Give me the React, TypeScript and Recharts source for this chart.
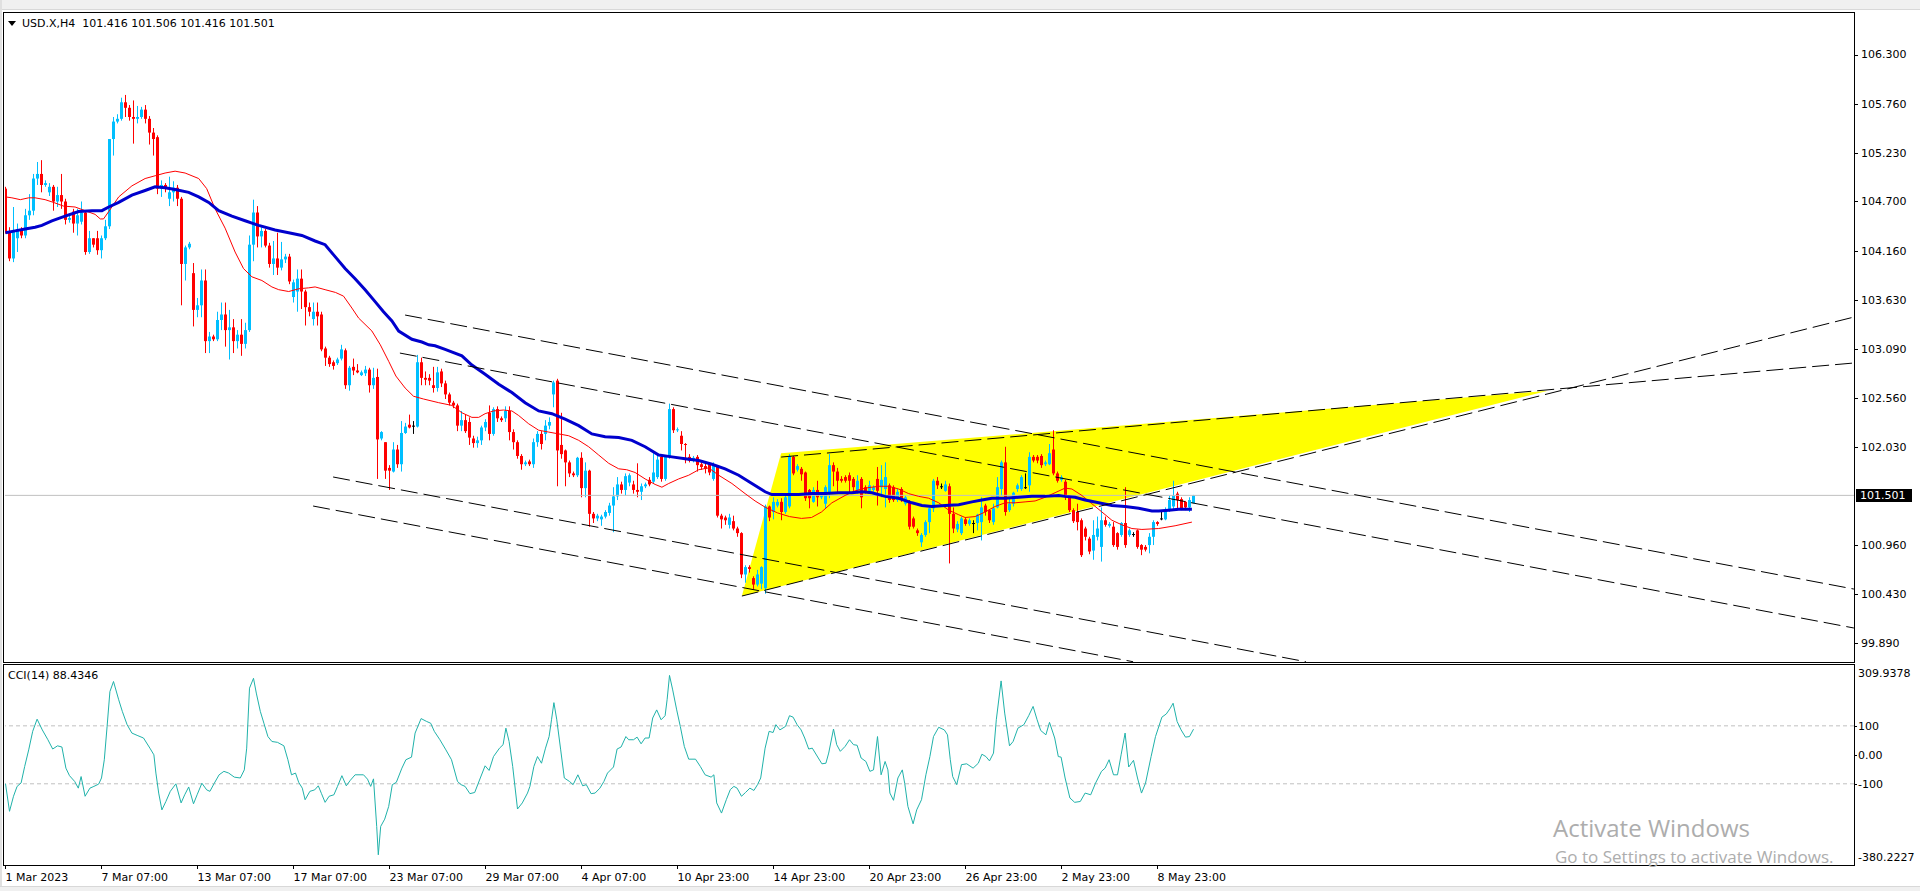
import { Area, Bar, ComposedChart, Line, ReferenceLine, XAxis, YAxis } from "recharts";

// H4 candles, one per bar
const barOpen = [
  104.84, 104.37, 104.08, 104.30, 104.40, 104.33, 104.55, 104.60, 104.95, 105.00,
  104.88, 104.80, 104.86, 104.70, 104.77, 104.70, 104.50, 104.59, 104.46, 104.48,
  104.58, 104.15, 104.30, 104.30, 104.17, 104.30, 104.43, 105.38, 105.57, 105.60,
  105.78, 105.72, 105.62, 105.60, 105.62, 105.70, 105.60, 105.45, 105.40, 104.84,
  104.88, 104.73, 104.80, 104.85, 104.73, 104.02, 104.20, 103.92, 103.52, 103.57,
  103.84, 103.18, 103.23, 103.20, 103.41, 103.47, 103.30, 103.33, 103.18, 103.25,
  103.15, 103.30, 104.23, 104.58, 104.32, 104.38, 104.22, 104.02, 104.08, 103.98,
  104.07, 104.10, 103.66, 103.72, 103.86, 103.72, 103.55, 103.42, 103.50, 103.47,
  103.10, 103.00, 102.95, 102.94, 102.99, 103.08, 102.70, 102.90, 102.86, 102.81,
  102.83, 102.87, 102.70, 102.79, 102.12, 102.08, 101.80, 101.76, 102.00, 101.84,
  102.18, 102.27, 102.26, 102.25, 102.95, 102.78, 102.78, 102.70, 102.67, 102.85,
  102.72, 102.60, 102.51, 102.48, 102.26, 102.32, 102.30, 102.12, 102.07, 102.10,
  102.24, 102.40, 102.17, 102.44, 102.34, 102.34, 102.42, 102.19, 102.08, 101.93,
  101.84, 101.87, 101.84, 102.08, 102.17, 102.17, 102.26, 102.60, 102.75, 102.05,
  101.99, 101.86, 101.74, 101.72, 101.91, 101.58, 101.77, 101.30, 101.25, 101.24,
  101.27, 101.31, 101.39, 101.49, 101.62, 101.56, 101.64, 101.62, 101.56, 101.54,
  101.60, 101.67, 101.65, 101.70, 101.92, 101.68, 101.92, 102.44, 102.21, 102.15,
  102.06, 101.92, 101.88, 101.92, 101.84, 101.82, 101.84, 101.68, 101.81, 101.28,
  101.26, 101.18, 101.22, 101.14, 101.09, 100.64, 100.72, 100.60, 100.53, 100.54,
  100.49, 101.38, 101.32, 101.39, 101.43, 101.32, 101.38, 101.92, 101.78, 101.79,
  101.75, 101.56, 101.43, 101.56, 101.48, 101.41, 101.52, 101.83, 101.76, 101.68,
  101.70, 101.72, 101.68, 101.56, 101.68, 101.59, 101.55, 101.56, 101.68, 101.59,
  101.57, 101.61, 101.59, 101.45, 101.57, 101.41, 101.43, 101.25, 101.12, 100.99,
  101.07, 101.21, 101.36, 101.66, 101.60, 101.55, 101.60, 101.30, 101.13, 101.09,
  101.24, 101.19, 101.20, 101.20, 101.21, 101.39, 101.34, 101.21, 101.37, 101.57,
  101.86, 101.34, 101.41, 101.57, 101.57, 101.59, 101.61, 101.92, 101.92, 101.93,
  101.84, 101.84, 102.00, 101.74, 101.67, 101.65, 101.48, 101.34, 101.32, 101.23,
  101.14, 101.03, 100.90, 101.05, 100.94, 101.23, 101.17, 101.16, 101.09, 101.07,
  101.20, 101.07, 101.08, 101.12, 100.96, 100.94, 100.96, 101.05, 101.21, 101.25,
  101.24, 101.34, 101.38, 101.52, 101.46, 101.43, 101.37, 101.416,
];
const barHigh = [
  104.86, 104.42, 104.64, 104.46, 104.42, 104.62, 104.78, 105.00, 105.13, 105.15,
  104.93, 104.90, 104.88, 104.86, 105.00, 104.73, 104.56, 104.62, 104.62, 104.70,
  104.60, 104.38, 104.30, 104.38, 104.33, 104.50, 105.38, 105.62, 105.65, 105.83,
  105.86, 105.75, 105.80, 105.74, 105.73, 105.75, 105.63, 105.50, 105.42, 104.93,
  104.90, 104.97, 104.92, 104.88, 104.75, 104.22, 104.26, 104.03, 103.65, 103.96,
  103.96, 103.28, 103.25, 103.50, 103.60, 103.60, 103.52, 103.42, 103.30, 103.42,
  103.38, 104.33, 104.72, 104.65, 104.42, 104.40, 104.25, 104.27, 104.36, 104.26,
  104.13, 104.13, 103.85, 103.96, 103.96, 103.74, 103.60, 103.60, 103.60, 103.50,
  103.12, 103.02, 102.97, 103.00, 103.14, 103.10, 102.91, 102.99, 102.93, 102.86,
  102.91, 102.89, 102.89, 102.88, 102.20, 102.08, 101.83, 102.08, 102.05, 102.31,
  102.29, 102.38, 102.31, 103.03, 103.00, 102.85, 102.82, 102.90, 102.90, 102.88,
  102.75, 102.62, 102.53, 102.50, 102.42, 102.38, 102.35, 102.15, 102.14, 102.26,
  102.33, 102.48, 102.46, 102.47, 102.36, 102.47, 102.47, 102.22, 102.10, 101.95,
  101.88, 101.89, 102.12, 102.20, 102.20, 102.32, 102.35, 102.75, 102.77, 102.40,
  102.00, 101.88, 101.76, 101.92, 101.97, 101.86, 101.78, 101.32, 101.30, 101.29,
  101.34, 101.42, 101.59, 101.70, 101.65, 101.74, 101.74, 101.66, 101.85, 101.63,
  101.64, 101.70, 101.96, 101.96, 101.95, 101.94, 102.50, 102.46, 102.24, 102.20,
  102.07, 101.95, 101.93, 101.94, 101.86, 101.86, 101.86, 101.86, 101.83, 101.30,
  101.28, 101.30, 101.28, 101.16, 101.10, 100.74, 100.74, 100.62, 100.69, 100.73,
  101.40, 101.39, 101.48, 101.46, 101.47, 101.52, 101.95, 101.93, 101.84, 101.81,
  101.76, 101.57, 101.59, 101.66, 101.52, 101.61, 101.95, 101.86, 101.80, 101.71,
  101.72, 101.75, 101.70, 101.72, 101.70, 101.61, 101.66, 101.61, 101.81, 101.83,
  101.86, 101.63, 101.61, 101.57, 101.59, 101.50, 101.45, 101.27, 101.14, 101.09,
  101.23, 101.37, 101.68, 101.70, 101.63, 101.66, 101.63, 101.37, 101.22, 101.27,
  101.26, 101.25, 101.23, 101.30, 101.48, 101.41, 101.35, 101.41, 101.70, 101.88,
  102.03, 101.48, 101.54, 101.63, 101.72, 101.74, 101.97, 101.94, 101.94, 101.95,
  101.88, 102.06, 102.21, 101.76, 101.72, 101.67, 101.50, 101.36, 101.41, 101.25,
  101.16, 101.05, 101.23, 101.27, 101.37, 101.27, 101.21, 101.21, 101.10, 101.21,
  101.59, 101.14, 101.10, 101.13, 100.97, 100.96, 101.09, 101.23, 101.22, 101.32,
  101.37, 101.50, 101.66, 101.54, 101.48, 101.44, 101.48, 101.506,
];
const barLow = [
  104.35, 104.05, 104.04, 104.15, 104.30, 104.30, 104.50, 104.55, 104.88, 104.80,
  104.86, 104.76, 104.60, 104.64, 104.62, 104.45, 104.47, 104.36, 104.33, 104.45,
  104.12, 104.13, 104.20, 104.12, 104.08, 104.28, 104.40, 105.20, 105.55, 105.58,
  105.62, 105.58, 105.33, 105.55, 105.60, 105.55, 105.32, 105.20, 104.78, 104.75,
  104.80, 104.65, 104.70, 104.65, 103.57, 103.84, 104.18, 103.34, 103.44, 103.44,
  103.05, 103.05, 103.18, 103.18, 103.30, 103.12, 102.98, 103.05, 103.10, 103.02,
  103.10, 103.28, 104.05, 104.20, 104.20, 104.20, 103.98, 103.90, 103.90, 103.95,
  104.03, 103.80, 103.60, 103.50, 103.53, 103.35, 103.45, 103.35, 103.35, 103.07,
  102.91, 102.90, 102.87, 102.92, 102.97, 102.66, 102.64, 102.81, 102.83, 102.80,
  102.80, 102.62, 102.66, 101.68, 102.10, 101.68, 101.56, 101.75, 101.80, 101.76,
  102.17, 102.23, 102.17, 102.24, 102.70, 102.70, 102.70, 102.62, 102.63, 102.68,
  102.55, 102.48, 102.45, 102.20, 102.20, 102.18, 102.05, 102.02, 102.02, 102.05,
  102.20, 102.10, 102.15, 102.30, 102.30, 102.30, 102.10, 102.00, 101.90, 101.78,
  101.82, 101.82, 101.80, 102.03, 102.00, 102.10, 102.22, 102.46, 101.60, 101.90,
  101.60, 101.70, 101.70, 101.70, 101.48, 101.48, 101.16, 101.20, 101.22, 101.17,
  101.25, 101.28, 101.10, 101.45, 101.52, 101.50, 101.60, 101.52, 101.48, 101.45,
  101.58, 101.60, 101.63, 101.68, 101.65, 101.66, 101.90, 102.18, 102.19, 101.99,
  101.85, 101.86, 101.86, 101.76, 101.78, 101.74, 101.72, 101.66, 101.26, 101.14,
  101.18, 101.14, 101.12, 101.05, 100.60, 100.55, 100.66, 100.48, 100.51, 100.48,
  100.43, 101.22, 101.24, 101.37, 101.23, 101.30, 101.36, 101.72, 101.76, 101.66,
  101.44, 101.36, 101.42, 101.38, 101.46, 101.36, 101.47, 101.60, 101.52, 101.64,
  101.64, 101.52, 101.55, 101.52, 101.36, 101.52, 101.52, 101.54, 101.39, 101.48,
  101.37, 101.42, 101.43, 101.43, 101.43, 101.39, 101.13, 101.14, 101.06, 100.94,
  101.05, 101.09, 101.32, 101.57, 101.57, 101.54, 100.76, 101.09, 101.10, 101.07,
  101.17, 101.17, 101.09, 101.12, 101.01, 101.28, 101.20, 101.18, 101.36, 101.50,
  101.28, 101.32, 101.38, 101.54, 101.55, 101.57, 101.54, 101.86, 101.85, 101.80,
  101.82, 101.83, 101.72, 101.64, 101.65, 101.45, 101.32, 101.20, 101.12, 100.83,
  101.01, 100.86, 100.80, 101.01, 100.78, 101.16, 101.15, 100.94, 100.91, 101.05,
  100.93, 101.05, 101.05, 100.92, 100.85, 100.89, 100.87, 100.96, 101.17, 101.23,
  101.23, 101.32, 101.34, 101.36, 101.34, 101.34, 101.32, 101.416,
];
const barClose = [
  104.37, 104.08, 104.37, 104.40, 104.33, 104.55, 104.60, 104.95, 105.00, 104.88,
  104.90, 104.86, 104.70, 104.77, 104.70, 104.50, 104.52, 104.46, 104.55, 104.58,
  104.15, 104.30, 104.23, 104.17, 104.30, 104.43, 105.38, 105.57, 105.60, 105.78,
  105.72, 105.62, 105.60, 105.62, 105.70, 105.60, 105.45, 105.38, 104.84, 104.88,
  104.84, 104.80, 104.85, 104.73, 104.02, 104.20, 104.24, 103.52, 103.57, 103.84,
  103.18, 103.23, 103.20, 103.41, 103.47, 103.30, 103.33, 103.18, 103.25, 103.15,
  103.30, 104.23, 104.58, 104.32, 104.38, 104.22, 104.02, 104.08, 103.98, 104.07,
  104.10, 103.83, 103.82, 103.86, 103.72, 103.55, 103.50, 103.50, 103.45, 103.09,
  103.00, 102.93, 102.91, 102.98, 103.09, 102.70, 102.89, 102.86, 102.84, 102.84,
  102.87, 102.70, 102.78, 102.11, 102.19, 101.77, 101.77, 102.00, 101.84, 102.18,
  102.25, 102.24, 102.26, 102.95, 102.78, 102.76, 102.75, 102.67, 102.84, 102.72,
  102.60, 102.51, 102.48, 102.26, 102.32, 102.20, 102.13, 102.07, 102.10, 102.24,
  102.30, 102.17, 102.44, 102.34, 102.32, 102.42, 102.19, 102.08, 101.93, 101.84,
  101.86, 101.84, 102.08, 102.17, 102.06, 102.26, 102.30, 102.73, 101.99, 101.95,
  101.86, 101.74, 101.72, 101.91, 101.58, 101.77, 101.30, 101.25, 101.28, 101.27,
  101.32, 101.39, 101.49, 101.62, 101.56, 101.71, 101.72, 101.56, 101.54, 101.60,
  101.62, 101.62, 101.75, 101.89, 101.68, 101.92, 102.44, 102.21, 102.22, 102.06,
  102.05, 101.88, 101.91, 101.83, 101.81, 101.79, 101.75, 101.83, 101.28, 101.24,
  101.23, 101.26, 101.14, 101.09, 100.64, 100.72, 100.70, 100.53, 100.64, 100.72,
  101.38, 101.26, 101.43, 101.43, 101.32, 101.48, 101.93, 101.74, 101.82, 101.73,
  101.47, 101.47, 101.56, 101.48, 101.50, 101.59, 101.83, 101.76, 101.66, 101.66,
  101.66, 101.66, 101.59, 101.66, 101.48, 101.54, 101.61, 101.59, 101.55, 101.67,
  101.70, 101.45, 101.45, 101.54, 101.45, 101.48, 101.16, 101.16, 101.09, 101.07,
  101.21, 101.36, 101.66, 101.61, 101.60, 101.62, 101.30, 101.14, 101.19, 101.25,
  101.19, 101.23, 101.20, 101.29, 101.37, 101.32, 101.23, 101.36, 101.59, 101.86,
  101.32, 101.41, 101.53, 101.61, 101.70, 101.59, 101.92, 101.88, 101.88, 101.83,
  101.86, 101.96, 101.74, 101.66, 101.70, 101.48, 101.34, 101.22, 101.21, 100.85,
  101.05, 100.89, 101.07, 101.14, 101.23, 101.18, 101.19, 100.96, 100.94, 101.20,
  100.96, 101.12, 101.08, 100.94, 100.91, 100.91, 101.05, 101.21, 101.19, 101.25,
  101.34, 101.45, 101.50, 101.45, 101.36, 101.37, 101.45, 101.501,
];

// moving averages, sampled along the bar axis
const redMaAt = [
  0, 1.6, 3.7, 5.8, 7.4, 9.9, 12, 14.5, 17.4, 19.9, 22.4, 23.7, 24.5, 25.8, 28.3, 31.6, 34.9, 37.4, 39.9, 42.4,
  44.9, 48.3, 50.3, 52.4, 54.9, 57.4, 59.5, 61.6, 64.1, 66.6, 68.3, 70.8, 73.3, 75.8, 77.4, 79.9, 82.5, 84.5, 86.6, 88.3,
  91.6, 93.7, 95.8, 97.6, 99.9, 102, 104.5, 108.3, 111.6, 114.1, 116.6, 118.3, 119.9, 122, 124.5, 126.6, 128.3, 130.8, 133.3, 135.8,
  138.3, 140.8, 143.3, 145.8, 148.3, 150.8, 153.3, 155.3, 157.4, 159.9, 162.4, 164.1, 165.8, 168.3, 170.8, 173.3, 175.8, 178.3, 181.6, 184.9,
  187.4, 190, 193, 196, 199, 201.5, 204, 206.6, 209.9, 212.4, 214.9, 218.3, 220.8, 223.3, 225.8, 228.3, 230.8, 233.3, 235.8, 238.3,
  239.9, 242.4, 244.9, 247.4, 249.9, 252.4, 254.9, 257.4, 259.9, 262.4, 264.9, 266.6, 269.1, 271.6, 274.1, 276.6, 279.1, 281.6, 284.1, 288.3,
  292.4, 296.6,
];
const redMa = [
  104.75, 104.74, 104.72, 104.74, 104.74, 104.72, 104.69, 104.65, 104.64, 104.60, 104.56, 104.51, 104.51, 104.59, 104.75, 104.87, 104.95, 104.98, 105.01, 105.03,
  105.01, 104.95, 104.84, 104.62, 104.41, 104.15, 103.97, 103.88, 103.84, 103.77, 103.74, 103.72, 103.75, 103.76, 103.77, 103.74, 103.71, 103.67, 103.54, 103.43,
  103.29, 103.14, 102.96, 102.80, 102.67, 102.58, 102.55, 102.51, 102.48, 102.40, 102.35, 102.35, 102.39, 102.42, 102.43, 102.42, 102.37, 102.28, 102.21, 102.19,
  102.17, 102.15, 102.10, 102.03, 101.94, 101.85, 101.79, 101.78, 101.75, 101.68, 101.62, 101.59, 101.63, 101.68, 101.72, 101.78, 101.80, 101.72, 101.63, 101.52,
  101.44, 101.37, 101.31, 101.27, 101.25, 101.26, 101.32, 101.42, 101.50, 101.55, 101.58, 101.60, 101.60, 101.57, 101.52, 101.49, 101.47, 101.42, 101.34, 101.29,
  101.26, 101.27, 101.32, 101.38, 101.42, 101.42, 101.43, 101.44, 101.48, 101.53, 101.58, 101.57, 101.50, 101.41, 101.32, 101.23, 101.18, 101.14, 101.13, 101.14,
  101.17, 101.21,
];
const blueMaAt = [
  0, 2.4, 4.9, 7.4, 9.1, 11.6, 14.9, 18.3, 21.6, 24.1, 25.8, 28.3, 31.6, 34.9, 37.4, 39.9, 42.4, 45.8, 48.3, 50.8,
  53.3, 56.6, 59.9, 63.3, 67.4, 70.8, 74.1, 77.4, 79.9, 82.4, 84.9, 87.4, 89.9, 92.4, 94.5, 96.6, 98.3, 101.6, 104.1, 105.8,
  107.4, 109.9, 114.1, 116.6, 119.9, 123.3, 126.6, 129.9, 133.3, 136.6, 139.9, 143.3, 146.6, 149.9, 153.3, 156.6, 159.9, 163.3, 166.6, 169.9,
  173.3, 176.6, 179.9, 183.3, 186.6, 189.9, 191.6, 194.9, 198.3, 201.6, 204.9, 208.3, 211.6, 214.1, 216.6, 219.9, 223.3, 226.6, 229.1, 231.6,
  234.9, 238.3, 241.6, 244.1, 246.6, 249.9, 253.3, 256.6, 259.9, 263.3, 264.9, 267.4, 269.9, 273.3, 276.6, 279.9, 283.3, 286.6, 288.3, 290.8,
  293.3, 296.6,
];
const blueMa = [
  104.36, 104.38, 104.40, 104.42, 104.44, 104.49, 104.54, 104.59, 104.60, 104.60, 104.64, 104.69, 104.77, 104.82, 104.86, 104.85, 104.83, 104.80, 104.75, 104.69,
  104.60, 104.54, 104.49, 104.44, 104.39, 104.36, 104.33, 104.27, 104.23, 104.10, 103.97, 103.86, 103.74, 103.61, 103.50, 103.40, 103.29, 103.20, 103.17, 103.14,
  103.13, 103.09, 103.02, 102.92, 102.82, 102.71, 102.62, 102.51, 102.42, 102.39, 102.33, 102.26, 102.17, 102.14, 102.13, 102.10, 102.03, 101.94, 101.92, 101.90,
  101.88, 101.84, 101.79, 101.72, 101.63, 101.54, 101.51, 101.51, 101.51, 101.52, 101.52, 101.53, 101.53, 101.54, 101.53, 101.49, 101.47, 101.42, 101.39, 101.38,
  101.39, 101.40, 101.43, 101.45, 101.47, 101.47, 101.48, 101.49, 101.49, 101.50, 101.49, 101.48, 101.45, 101.42, 101.39, 101.38, 101.36, 101.33, 101.33, 101.34,
  101.35, 101.35,
];

// CCI(14)
const cciAt = [
  0, 1.0, 2.0, 2.9, 3.9, 4.8, 5.8, 6.8, 7.9, 9.2, 10.6, 11.8, 13.0, 14.1, 15.1, 16.0, 17.3, 18.2, 18.9, 19.9,
  21.1, 22.1, 23.3, 24.0, 24.7, 25.4, 26.1, 27.0, 28.3, 29.2, 30.4, 31.6, 33.1, 34.5, 36.1, 37.1, 37.6, 38.3, 39.1, 40.1,
  41.2, 42.6, 43.9, 44.8, 45.8, 47.0, 47.9, 49.1, 50.3, 51.1, 52.2, 53.4, 54.6, 55.8, 57.2, 58.7, 59.7, 60.3, 61.0, 62.0,
  62.7, 63.7, 64.6, 65.6, 66.6, 68.0, 69.6, 70.6, 71.5, 72.5, 73.3, 74.2, 74.9, 76.1, 77.3, 78.2, 79.0, 79.9, 80.9, 82.1,
  83.0, 84.1, 85.2, 86.2, 87.4, 89.5, 90.5, 91.3, 92.0, 92.8, 93.2, 93.8, 94.8, 95.8, 96.7, 97.7, 99.1, 100.1, 101.5, 102.4,
  103.9, 105.3, 106.3, 107.2, 108.6, 110.1, 111.5, 113.0, 113.9, 114.9, 116.1, 117.3, 118.7, 119.9, 120.9, 122.0, 123.5, 124.4, 125.1, 125.9,
  126.8, 128.0, 129.2, 130.5, 131.1, 132.1, 133.0, 134.0, 135.0, 135.9, 136.5, 137.1, 137.8, 138.8, 139.7, 141.0, 141.9, 143.1, 144.3, 145.2,
  146.4, 147.4, 148.6,
  149.6, 150.5, 152.0, 152.9, 153.9, 155.1, 155.8, 157.0, 157.9, 158.9, 159.9, 160.9, 161.8, 162.8, 163.9, 164.9, 165.4, 166.0, 166.8, 167.8,
  168.7, 169.7, 170.8, 172.5, 173.7, 174.9, 176.4, 177.1, 177.8, 179.0, 180.2, 181.2, 182.1, 182.9, 184.0, 185.0, 186.1, 187.1, 188.0, 188.8,
  189.9, 190.9, 191.9, 192.6, 193.6, 195.0, 196.0, 196.9, 197.9, 198.9, 199.8, 200.8, 201.7, 203.2, 204.1, 205.1, 205.8, 207.0, 207.8, 208.7,
  209.9, 211.0, 212.0, 212.9, 213.9, 215.1, 216.1, 217.0, 218.0, 218.9, 219.9, 220.6, 221.1, 222.0, 223.1, 224.2, 224.8, 225.6, 226.9, 227.8,
  229.0, 230.1, 231.1, 232.0, 233.3, 234.7, 235.5, 236.2, 236.8, 237.8, 239.0, 240.3, 241.9, 243.2, 244.1, 245.1, 246.0, 247.0, 247.7, 248.9,
  249.8, 251.0, 251.9, 253.1, 254.6, 255.8, 256.9, 257.9, 258.8, 260.1, 261.0, 262.3, 263.2, 263.9, 264.9, 266.1, 267.3, 268.7, 269.9, 271.3,
  272.5, 274.0, 274.9, 275.9, 277.0, 278.0, 278.9, 279.9, 280.8, 282.0, 283.0, 284.0, 285.0, 286.4, 287.5, 289.1, 290.2, 291.2, 291.9, 292.9,
  293.9, 295.0, 296.0, 297.0,
];
const cci = [
  -100, -195, -143, -109, -97, -40, 17, 81, 123, 86, 52, 20, 31, 27, -46, -72, -92, -115, -75, -143,
  -115, -109, -101, -80, -17, 98, 218, 253, 190, 150, 104, 75, 66, 58, 23, 0, -63, -132, -190, -161,
  -126, -100, -166, -138, -111, -169, -138, -98, -121, -126, -98, -69, -57, -63, -77, -80, -52, 23, 230, 264,
  213, 150, 109, 63, 46, 43, 31, -17, -69, -63, -95, -115, -155, -126, -121, -107, -134, -164, -143, -138,
  -109, -72, -107, -88, -69, -69, -84, -109, -83, -247, -345, -247, -222, -178, -103, -95, -46, -17, -8, 75,
  125, 115, 109, 81, 52, 17, -17, -92, -103, -109, -134, -130, -80, -38, -54, -6, 23, 35, 92, 46,
  -40, -187, -166, -132, -109, -40, -6, -29, 23, 63, 121, 180, 123, 17, -80, -92, -103, -69, -107, -103,
  -134, -132, -115,
  -92, -63, -42, 20, 27, 63, 52, 52, 61, 38, 58, 58, 127, 155, 121, 135, 190, 274, 224, 155,
  98, 29, -15, -15, -40, -69, -77, -69, -166, -201, -155, -120, -109, -115, -143, -130, -115, -123, -103, -80,
  23, 81, 77, 104, 86, 98, 135, 130, 104, 86, 58, 20, 23, -11, -31, -29, 6, 89, 35, 12,
  29, 52, 35, 33, -11, -23, -57, -52, 63, -69, -23, -52, -132, -157, -80, -52, -98, -178, -238, -190,
  -155, -69, -6, 63, 95, 86, 69, -17, -75, -103, -34, -31, -46, -29, 2, -6, -21, 6, 121, 255,
  144, 31, 46, 92, 104, 135, 167, 121, 84, 69, 112, 58, -6, -8, -80, -149, -164, -161, -132, -138,
  -98, -57, -46, -17, -69, -69, 0, 75, -42, -19, -80, -132, -98, -6, 63, 130, 141, 161, 178, 115,
  86, 61, 63, 88.4,
];

// drawn objects: dashed trend lines (bar, price) and the yellow triangle
const lineFromBar = [99.9, 98.6, 81.9, 76.9, 184.1, 193.9];
const lineFromPrice = [103.464, 103.05, 101.701, 101.385, 100.405, 101.918];
const lineToBar = [462.1, 462.1, 325.1, 281.9, 462.1, 462.1];
const lineToPrice = [100.481, 100.057, 99.69, 99.69, 103.442, 102.942];

const triangleAt = [184.1, 193.9, 385.6];
const triangleLow = [100.405, 100.512, 102.64];
const triangleHigh = [100.405, 101.959, 102.64];

const priceTicks = [106.3, 105.76, 105.23, 104.7, 104.16, 103.63, 103.09, 102.56, 102.03, 100.96, 100.43, 99.89];
const lastPrice = 101.501;
const cciTicks = [309.9378, 100, 0, -100, -380.2227];
const cciTickLabels = ["309.9378", "100", "0.00", "-100", "-380.2227"];
const dateTicks = [0, 24, 48, 72, 96, 120, 144, 168, 192, 216, 240, 264, 288];
const dateLabels = [
  "1 Mar 2023", "7 Mar 07:00", "13 Mar 07:00", "17 Mar 07:00", "23 Mar 07:00", "29 Mar 07:00", "4 Apr 07:00",
  "10 Apr 23:00", "14 Apr 23:00", "20 Apr 23:00", "26 Apr 23:00", "2 May 23:00", "8 May 23:00",
];

const FONT = "'DejaVu Sans', Verdana, sans-serif";
const X_DOMAIN: [number, number] = [-0.125, 462.125];

const candles = barOpen.map((open, i) => ({
  x: i,
  open,
  high: barHigh[i],
  low: barLow[i],
  close: barClose[i],
  range: [barLow[i], barHigh[i]],
}));
const redData = redMaAt.map((x, k) => ({ x, v: redMa[k] }));
const blueData = blueMaAt.map((x, k) => ({ x, v: blueMa[k] }));
const cciData = cciAt.map((x, k) => ({ x, v: cci[k] }));
const triangleData = triangleAt.map((x, k) => ({ x, band: [triangleLow[k], triangleHigh[k]] }));

function Candle(props: any) {
  const { x, y, width, height, payload } = props;
  if (x == null || !payload) return null;
  const { open, close, high, low } = payload;
  const top = Math.min(y, y + height);
  const h = Math.abs(height);
  const span = high - low || 1;
  const at = (v: number) => top + ((high - v) / span) * h;
  const cx = Math.floor(x + width / 2);
  const color = close > open ? "#00BFFF" : close < open ? "#FF0000" : "#000000";
  const yo = at(open);
  const yc = at(close);
  const bodyTop = Math.min(yo, yc);
  const bodyH = Math.max(Math.abs(yc - yo), 1);
  return (
    <g>
      <line x1={cx + 0.5} x2={cx + 0.5} y1={top} y2={top + Math.max(h, 1)} stroke={color} strokeWidth={1} />
      <rect x={cx - 1} y={bodyTop} width={3} height={bodyH} fill={color} />
    </g>
  );
}

function PriceTick({ x, y, payload }: any) {
  const py = Math.round(y) + 0.5;
  return (
    <g>
      <line x1={x} x2={x + 4} y1={py} y2={py} stroke="#000" />
      <text x={x + 7} y={y} dy="0.36em" fontSize={11} fontFamily={FONT} fill="#000">
        {Number(payload.value).toFixed(3)}
      </text>
    </g>
  );
}

function CciTick({ x, y, index }: any) {
  const last = cciTicks.length - 1;
  const edge = index === 0 || index === last;
  const ty = index === 0 ? y + 8 : index === last ? y - 8 : y;
  const py = Math.round(y) + 0.5;
  return (
    <g>
      {!edge && <line x1={x} x2={x + 3} y1={py} y2={py} stroke="#000" />}
      <text x={x + 4} y={ty} dy="0.36em" fontSize={11} fontFamily={FONT} fill="#000">
        {cciTickLabels[index]}
      </text>
    </g>
  );
}

function DateTick({ x, y, payload }: any) {
  const k = dateTicks.indexOf(payload.value);
  const px = Math.floor(x) + 0.5;
  return (
    <g>
      <line x1={px} x2={px} y1={y} y2={y + 4} stroke="#000" />
      <text x={px} y={y + 16} fontSize={11} fontFamily={FONT} fill="#000">
        {dateLabels[k]}
      </text>
    </g>
  );
}

function BidLabel(props: any) {
  const vb = props.viewBox || {};
  const right = (vb.x || 0) + (vb.width || 0);
  const y = vb.y || 0;
  return (
    <g>
      <rect x={right + 2} y={Math.round(y) - 6} width={56} height={13} fill="#000" />
      <text x={right + 6} y={y} dy="0.36em" fontSize={11} fontFamily={FONT} fill="#fff">
        {lastPrice.toFixed(3)}
      </text>
    </g>
  );
}

export default function App() {
  return (
    <div
      style={{
        position: "absolute",
        left: 0,
        top: 0,
        width: 1920,
        height: 891,
        background: "#fff",
        overflow: "hidden",
        fontFamily: FONT,
      }}
    >
      {/* window chrome */}
      <div style={{ position: "absolute", left: 0, top: 0, width: 1920, height: 9, background: "#F0F0F0", borderBottom: "1px solid #D8D8D8" }} />
      <div style={{ position: "absolute", left: 0, top: 0, width: 2, height: 891, background: "#E0E0E0" }} />
      <div style={{ position: "absolute", left: 0, top: 886, width: 1920, height: 5, background: "#F0F0F0", borderTop: "1px solid #D8D8D8" }} />

      <div style={{ position: "absolute", left: 5, top: 13 }}>
        <ComposedChart width={1915} height={649} data={candles} margin={{ top: 0, right: 0, bottom: 0, left: 0 }}>
          <XAxis type="number" dataKey="x" domain={X_DOMAIN} hide allowDataOverflow />
          <YAxis
            orientation="right"
            width={66}
            domain={[99.687, 106.752]}
            ticks={priceTicks}
            interval={0}
            allowDataOverflow
            axisLine={false}
            tickLine={false}
            tickSize={0}
            tickMargin={0}
            tick={<PriceTick />}
          />
          <ReferenceLine y={lastPrice} stroke="#C0C0C0" label={(p: any) => <BidLabel {...p} />} />
          <Area
            data={triangleData}
            dataKey="band"
            type="linear"
            fill="#FFFF00"
            fillOpacity={1}
            stroke="none"
            isAnimationActive={false}
          />
          <Bar dataKey="range" barSize={3} shape={<Candle />} isAnimationActive={false} />
          <Line data={redData} dataKey="v" type="linear" stroke="#FF0000" strokeWidth={1} dot={false} isAnimationActive={false} />
          <Line data={blueData} dataKey="v" type="linear" stroke="#0000CD" strokeWidth={3} dot={false} isAnimationActive={false} />
          {lineFromBar.map((b, k) => (
            <ReferenceLine
              key={`tl-${k}`}
              segment={[
                { x: b, y: lineFromPrice[k] },
                { x: lineToBar[k], y: lineToPrice[k] },
              ]}
              stroke="#000"
              strokeWidth={1}
              strokeDasharray="17 6"
              ifOverflow="visible"
            />
          ))}
        </ComposedChart>
      </div>

      <div style={{ position: "absolute", left: 5, top: 665 }}>
        <ComposedChart width={1915} height={226} data={cciData} margin={{ top: 0, right: 0, bottom: 0, left: 0 }}>
          <XAxis
            type="number"
            dataKey="x"
            domain={X_DOMAIN}
            allowDataOverflow
            ticks={dateTicks}
            interval={0}
            height={26}
            axisLine={false}
            tickLine={false}
            tickSize={0}
            tickMargin={0}
            tick={<DateTick />}
          />
          <YAxis
            orientation="right"
            width={66}
            domain={[-380.2227, 309.9378]}
            ticks={cciTicks}
            interval={0}
            allowDataOverflow
            axisLine={false}
            tickLine={false}
            tickSize={0}
            tickMargin={0}
            tick={<CciTick />}
          />
          <ReferenceLine y={100} stroke="#C0C0C0" strokeDasharray="4 3" />
          <ReferenceLine y={-100} stroke="#C0C0C0" strokeDasharray="4 3" />
          <Line dataKey="v" type="linear" stroke="#20B2AA" strokeWidth={1} dot={false} isAnimationActive={false} />
        </ComposedChart>
      </div>

      {/* panel frames */}
      <div style={{ position: "absolute", left: 3, top: 12, width: 1852, height: 651, border: "1px solid #000", boxSizing: "border-box", pointerEvents: "none" }} />
      <div style={{ position: "absolute", left: 3, top: 664, width: 1852, height: 202, border: "1px solid #000", boxSizing: "border-box", pointerEvents: "none" }} />

      {/* panel captions */}
      <div style={{ position: "absolute", left: 8, top: 21, width: 0, height: 0, borderLeft: "4px solid transparent", borderRight: "4px solid transparent", borderTop: "5px solid #000" }} />
      <div style={{ position: "absolute", left: 22, top: 17, fontSize: 11, lineHeight: "14px", color: "#000", whiteSpace: "pre" }}>
        USD.X,H4  101.416 101.506 101.416 101.501
      </div>
      <div style={{ position: "absolute", left: 8, top: 669, fontSize: 11, lineHeight: "14px", color: "#000", whiteSpace: "pre" }}>
        CCI(14) 88.4346
      </div>

      {/* OS watermark */}
      <div style={{ position: "absolute", left: 1553, top: 813, fontFamily: "'Open Sans', sans-serif", fontSize: 24, lineHeight: "30px", color: "#ADADAD", whiteSpace: "pre" }}>
        Activate Windows
      </div>
      <div style={{ position: "absolute", left: 1555, top: 846, fontFamily: "'Open Sans', sans-serif", fontSize: 17, lineHeight: "22px", color: "#ADADAD", whiteSpace: "pre" }}>
        Go to Settings to activate Windows.
      </div>
    </div>
  );
}
